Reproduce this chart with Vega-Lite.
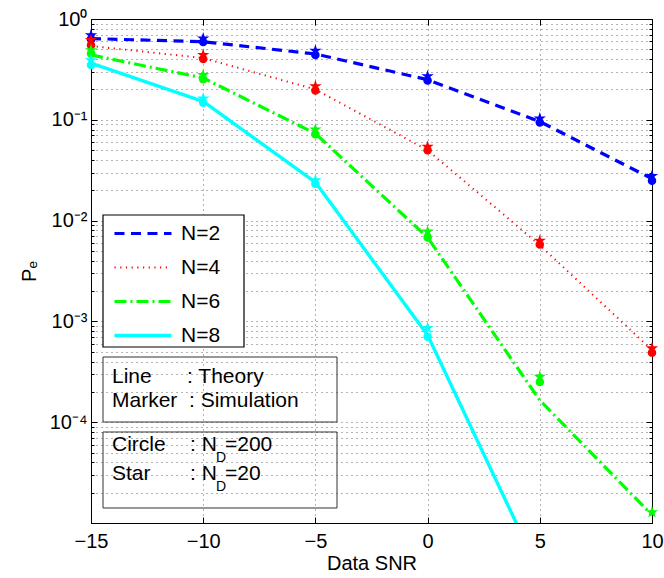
{
  "$schema": "https://vega.github.io/schema/vega-lite/v6.json",
  "width": 561,
  "height": 504,
  "autosize": {"type": "none"},
  "padding": {"left": 91, "top": 19, "right": 12, "bottom": 55},
  "background": "white",
  "config": {
    "font": "Liberation Sans",
    "view": {"stroke": "#000", "strokeWidth": 1},
    "axis": {
      "labelFont": "Liberation Sans", "labelFontSize": 20, "labelColor": "#000",
      "titleFont": "Liberation Sans", "titleFontSize": 20, "titleFontWeight": "normal", "titleColor": "#000",
      "domainColor": "#000", "tickColor": "#000", "gridColor": "#000", "gridDash": [1, 4], "gridOpacity": 0.6,
      "labelOverlap": false, "labelFlush": false, "labelBound": false
    },
    "text": {"font": "Liberation Sans", "fontSize": 21, "color": "#000", "align": "left", "baseline": "alphabetic"}
  },
  "datasets": {
    "theory": [
      {"N": "N=2", "snr": -15, "pe": 0.64}, {"N": "N=2", "snr": -10, "pe": 0.595}, {"N": "N=2", "snr": -5, "pe": 0.45},
      {"N": "N=2", "snr": 0, "pe": 0.25}, {"N": "N=2", "snr": 5, "pe": 0.096}, {"N": "N=2", "snr": 10, "pe": 0.026},
      {"N": "N=4", "snr": -15, "pe": 0.54}, {"N": "N=4", "snr": -10, "pe": 0.41}, {"N": "N=4", "snr": -5, "pe": 0.2},
      {"N": "N=4", "snr": 0, "pe": 0.05}, {"N": "N=4", "snr": 5, "pe": 0.0057}, {"N": "N=4", "snr": 10, "pe": 0.00052},
      {"N": "N=6", "snr": -15, "pe": 0.44}, {"N": "N=6", "snr": -10, "pe": 0.26}, {"N": "N=6", "snr": -5, "pe": 0.073},
      {"N": "N=6", "snr": 0, "pe": 0.0068}, {"N": "N=6", "snr": 5, "pe": 0.000165}, {"N": "N=6", "snr": 10, "pe": 0.000012},
      {"N": "N=8", "snr": -15, "pe": 0.365}, {"N": "N=8", "snr": -10, "pe": 0.152}, {"N": "N=8", "snr": -5, "pe": 0.024},
      {"N": "N=8", "snr": 0, "pe": 0.00073}, {"N": "N=8", "snr": 5, "pe": 0.0000032}
    ],
    "sim": [
      {"marker": "circle", "N": "N=2", "snr": -15, "pe": 0.63}, {"marker": "circle", "N": "N=2", "snr": -10, "pe": 0.59},
      {"marker": "circle", "N": "N=2", "snr": -5, "pe": 0.44}, {"marker": "circle", "N": "N=2", "snr": 0, "pe": 0.245},
      {"marker": "circle", "N": "N=2", "snr": 5, "pe": 0.094}, {"marker": "circle", "N": "N=2", "snr": 10, "pe": 0.0248},
      {"marker": "star", "N": "N=2", "snr": -15, "pe": 0.69}, {"marker": "star", "N": "N=2", "snr": -10, "pe": 0.64},
      {"marker": "star", "N": "N=2", "snr": -5, "pe": 0.485}, {"marker": "star", "N": "N=2", "snr": 0, "pe": 0.27},
      {"marker": "star", "N": "N=2", "snr": 5, "pe": 0.103}, {"marker": "star", "N": "N=2", "snr": 10, "pe": 0.0277},
      {"marker": "circle", "N": "N=4", "snr": -15, "pe": 0.55}, {"marker": "circle", "N": "N=4", "snr": -10, "pe": 0.4},
      {"marker": "circle", "N": "N=4", "snr": -5, "pe": 0.195}, {"marker": "circle", "N": "N=4", "snr": 0, "pe": 0.05},
      {"marker": "circle", "N": "N=4", "snr": 5, "pe": 0.0058}, {"marker": "circle", "N": "N=4", "snr": 10, "pe": 0.00049},
      {"marker": "star", "N": "N=4", "snr": -15, "pe": 0.62}, {"marker": "star", "N": "N=4", "snr": -10, "pe": 0.44},
      {"marker": "star", "N": "N=4", "snr": -5, "pe": 0.215}, {"marker": "star", "N": "N=4", "snr": 0, "pe": 0.054},
      {"marker": "star", "N": "N=4", "snr": 5, "pe": 0.0063}, {"marker": "star", "N": "N=4", "snr": 10, "pe": 0.00054},
      {"marker": "circle", "N": "N=6", "snr": -15, "pe": 0.455}, {"marker": "circle", "N": "N=6", "snr": -10, "pe": 0.252},
      {"marker": "circle", "N": "N=6", "snr": -5, "pe": 0.072}, {"marker": "circle", "N": "N=6", "snr": 0, "pe": 0.0068},
      {"marker": "circle", "N": "N=6", "snr": 5, "pe": 0.00025},
      {"marker": "star", "N": "N=6", "snr": -15, "pe": 0.49}, {"marker": "star", "N": "N=6", "snr": -10, "pe": 0.278},
      {"marker": "star", "N": "N=6", "snr": -5, "pe": 0.08}, {"marker": "star", "N": "N=6", "snr": 0, "pe": 0.0078},
      {"marker": "star", "N": "N=6", "snr": 5, "pe": 0.000283}, {"marker": "star", "N": "N=6", "snr": 10, "pe": 0.0000128},
      {"marker": "circle", "N": "N=8", "snr": -15, "pe": 0.35}, {"marker": "circle", "N": "N=8", "snr": -10, "pe": 0.148},
      {"marker": "circle", "N": "N=8", "snr": -5, "pe": 0.0232}, {"marker": "circle", "N": "N=8", "snr": 0, "pe": 0.000705},
      {"marker": "star", "N": "N=8", "snr": -15, "pe": 0.39}, {"marker": "star", "N": "N=8", "snr": -10, "pe": 0.163},
      {"marker": "star", "N": "N=8", "snr": -5, "pe": 0.0252}, {"marker": "star", "N": "N=8", "snr": 0, "pe": 0.00086}
    ],
    "one": [{"id": 1}]
  },
  "resolve": {"axis": {"x": "independent", "y": "independent"}},
  "layer": [
    {
      "data": {"name": "theory"},
      "mark": {"type": "line", "clip": true},
      "encoding": {
        "x": {
          "field": "snr", "type": "quantitative",
          "scale": {"domain": [-15, 10], "nice": false, "zero": false},
          "axis": {
            "orient": "bottom", "title": "Data SNR", "values": [-15, -10, -5, 0, 5, 10],
            "tickSize": -6, "labelPadding": 14, "titlePadding": 2, "grid": true, "domain": false
          }
        },
        "y": {
          "field": "pe", "type": "quantitative",
          "scale": {"type": "log", "domain": [0.00001, 1], "nice": false},
          "axis": {
            "orient": "left", "title": "Pₑ", "titlePadding": 10,
            "values": [0.00001, 0.00002, 0.00003, 0.00004, 0.00005, 0.00006, 0.00007, 0.00008, 0.00009,
                       0.0001, 0.0002, 0.0003, 0.0004, 0.0005, 0.0006, 0.0007, 0.0008, 0.0009,
                       0.001, 0.002, 0.003, 0.004, 0.005, 0.006, 0.007, 0.008, 0.009,
                       0.01, 0.02, 0.03, 0.04, 0.05, 0.06, 0.07, 0.08, 0.09,
                       0.1, 0.2, 0.3, 0.4, 0.5, 0.6, 0.7, 0.8, 0.9, 1],
            "labelExpr": "abs(log(datum.value)/LN10 - round(log(datum.value)/LN10)) > 0.01 ? '' : round(log(datum.value)/LN10) == 0 ? '10⁰' : round(log(datum.value)/LN10) == -1 ? '10⁻¹' : round(log(datum.value)/LN10) == -2 ? '10⁻²' : round(log(datum.value)/LN10) == -3 ? '10⁻³' : round(log(datum.value)/LN10) == -4 ? '10⁻⁴' : ''",
            "tickSize": {"condition": {"test": "abs(log(datum.value)/LN10 - round(log(datum.value)/LN10)) < 0.01", "value": -6}, "value": -3},
            "labelPadding": 10, "grid": true, "domain": false
          }
        },
        "color": {
          "field": "N", "type": "nominal",
          "scale": {"domain": ["N=2", "N=4", "N=6", "N=8"], "range": ["#0000ff", "#ff0000", "#00ff00", "#00ffff"]},
          "legend": {
            "orient": "none", "legendX": 12, "legendY": 196, "title": null, "padding": 8,
            "labelFontSize": 21, "labelFont": "Liberation Sans", "labelColor": "#000",
            "symbolType": "M-1.17,0H8.33", "symbolSize": 144, "labelOffset": 49, "rowPadding": 12
          }
        },
        "strokeDash": {
          "field": "N", "type": "nominal",
          "scale": {"domain": ["N=2", "N=4", "N=6", "N=8"], "range": [[10, 6.5], [1.2, 4.5], [12, 4, 2, 4], [1, 0]]},
          "legend": {
            "orient": "none", "legendX": 12, "legendY": 196, "title": null,
            "symbolType": "M-1.17,0H8.33", "symbolSize": 144
          }
        },
        "strokeWidth": {
          "field": "N", "type": "nominal",
          "scale": {"type": "ordinal", "domain": ["N=2", "N=4", "N=6", "N=8"], "range": [3.2, 2, 3.2, 3.4]},
          "legend": {
            "orient": "none", "legendX": 12, "legendY": 196, "title": null,
            "symbolType": "M-1.17,0H8.33", "symbolSize": 144
          }
        }
      }
    },
    {
      "data": {"name": "sim"},
      "transform": [{"filter": "datum.marker == 'circle'"}],
      "mark": {"type": "point", "filled": true, "shape": "circle", "size": 72, "opacity": 1},
      "encoding": {
        "x": {"field": "snr", "type": "quantitative", "axis": null},
        "y": {"field": "pe", "type": "quantitative", "axis": null},
        "color": {"field": "N", "type": "nominal", "legend": null}
      }
    },
    {
      "data": {"name": "sim"},
      "transform": [{"filter": "datum.marker == 'star'"}],
      "mark": {"type": "point", "filled": true, "shape": "M0,-1L0.225,-0.309L0.951,-0.309L0.363,0.118L0.588,0.809L0,0.382L-0.588,0.809L-0.363,0.118L-0.951,-0.309L-0.225,-0.309Z", "size": 169, "opacity": 1},
      "encoding": {
        "x": {"field": "snr", "type": "quantitative", "axis": null},
        "y": {"field": "pe", "type": "quantitative", "axis": null},
        "color": {"field": "N", "type": "nominal", "legend": null}
      }
    },
    {
      "data": {"name": "one"},
      "mark": {"type": "rect", "fill": "#fff", "stroke": "#000", "strokeWidth": 1.2},
      "encoding": {
        "x": {"datum": -14.465, "type": "quantitative", "axis": null},
        "x2": {"datum": -8.182},
        "y": {"datum": 0.01137, "type": "quantitative", "axis": null},
        "y2": {"datum": 0.000557}
      }
    },
    {
      "data": {"name": "one"},
      "mark": {"type": "rect", "fillOpacity": 0, "stroke": "#333", "strokeWidth": 1},
      "encoding": {
        "x": {"datum": -14.465, "type": "quantitative", "axis": null},
        "x2": {"datum": -4.037},
        "y": {"datum": 0.0004433, "type": "quantitative", "axis": null},
        "y2": {"datum": 0.0001004}
      }
    },
    {
      "data": {"name": "one"},
      "mark": {"type": "rect", "fillOpacity": 0, "stroke": "#333", "strokeWidth": 1},
      "encoding": {
        "x": {"datum": -14.465, "type": "quantitative", "axis": null},
        "x2": {"datum": -4.037},
        "y": {"datum": 0.00007995, "type": "quantitative", "axis": null},
        "y2": {"datum": 0.00001409}
      }
    },
    {"data": {"name": "one"}, "mark": {"type": "text", "text": "Line"},
     "encoding": {"x": {"datum": -14.064, "type": "quantitative", "axis": null}, "y": {"datum": 0.0002465, "type": "quantitative", "axis": null}}},
    {"data": {"name": "one"}, "mark": {"type": "text", "text": ": Theory"},
     "encoding": {"x": {"datum": -10.72, "type": "quantitative", "axis": null}, "y": {"datum": 0.0002465, "type": "quantitative", "axis": null}}},
    {"data": {"name": "one"}, "mark": {"type": "text", "text": "Marker"},
     "encoding": {"x": {"datum": -14.064, "type": "quantitative", "axis": null}, "y": {"datum": 0.0001425, "type": "quantitative", "axis": null}}},
    {"data": {"name": "one"}, "mark": {"type": "text", "text": ": Simulation"},
     "encoding": {"x": {"datum": -10.633, "type": "quantitative", "axis": null}, "y": {"datum": 0.0001425, "type": "quantitative", "axis": null}}},
    {"data": {"name": "one"}, "mark": {"type": "text", "text": "Circle"},
     "encoding": {"x": {"datum": -14.064, "type": "quantitative", "axis": null}, "y": {"datum": 0.0000518, "type": "quantitative", "axis": null}}},
    {"data": {"name": "one"}, "mark": {"type": "text", "text": ": N"},
     "encoding": {"x": {"datum": -10.588, "type": "quantitative", "axis": null}, "y": {"datum": 0.0000518, "type": "quantitative", "axis": null}}},
    {"data": {"name": "one"}, "mark": {"type": "text", "text": "D", "fontSize": 14},
     "encoding": {"x": {"datum": -9.43, "type": "quantitative", "axis": null}, "y": {"datum": 0.00004055, "type": "quantitative", "axis": null}}},
    {"data": {"name": "one"}, "mark": {"type": "text", "text": "=200"},
     "encoding": {"x": {"datum": -9.029, "type": "quantitative", "axis": null}, "y": {"datum": 0.0000518, "type": "quantitative", "axis": null}}},
    {"data": {"name": "one"}, "mark": {"type": "text", "text": "Star"},
     "encoding": {"x": {"datum": -14.064, "type": "quantitative", "axis": null}, "y": {"datum": 0.0000267, "type": "quantitative", "axis": null}}},
    {"data": {"name": "one"}, "mark": {"type": "text", "text": ": N"},
     "encoding": {"x": {"datum": -10.588, "type": "quantitative", "axis": null}, "y": {"datum": 0.0000267, "type": "quantitative", "axis": null}}},
    {"data": {"name": "one"}, "mark": {"type": "text", "text": "D", "fontSize": 14},
     "encoding": {"x": {"datum": -9.43, "type": "quantitative", "axis": null}, "y": {"datum": 0.00002077, "type": "quantitative", "axis": null}}},
    {"data": {"name": "one"}, "mark": {"type": "text", "text": "=20"},
     "encoding": {"x": {"datum": -9.029, "type": "quantitative", "axis": null}, "y": {"datum": 0.0000267, "type": "quantitative", "axis": null}}},
    {
      "data": {"name": "theory"},
      "mark": {"type": "line", "opacity": 0},
      "encoding": {
        "x": {
          "field": "snr", "type": "quantitative",
          "axis": {"orient": "top", "title": null, "labels": false, "values": [-15, -10, -5, 0, 5, 10], "tickSize": -6, "grid": false, "domain": false}
        },
        "y": {
          "field": "pe", "type": "quantitative",
          "axis": {
            "orient": "right", "title": null, "labels": false, "grid": false, "domain": false,
            "values": [0.00001, 0.00002, 0.00003, 0.00004, 0.00005, 0.00006, 0.00007, 0.00008, 0.00009,
                       0.0001, 0.0002, 0.0003, 0.0004, 0.0005, 0.0006, 0.0007, 0.0008, 0.0009,
                       0.001, 0.002, 0.003, 0.004, 0.005, 0.006, 0.007, 0.008, 0.009,
                       0.01, 0.02, 0.03, 0.04, 0.05, 0.06, 0.07, 0.08, 0.09,
                       0.1, 0.2, 0.3, 0.4, 0.5, 0.6, 0.7, 0.8, 0.9, 1],
            "tickSize": {"condition": {"test": "abs(log(datum.value)/LN10 - round(log(datum.value)/LN10)) < 0.01", "value": -6}, "value": -3}
          }
        }
      }
    }
  ]
}
